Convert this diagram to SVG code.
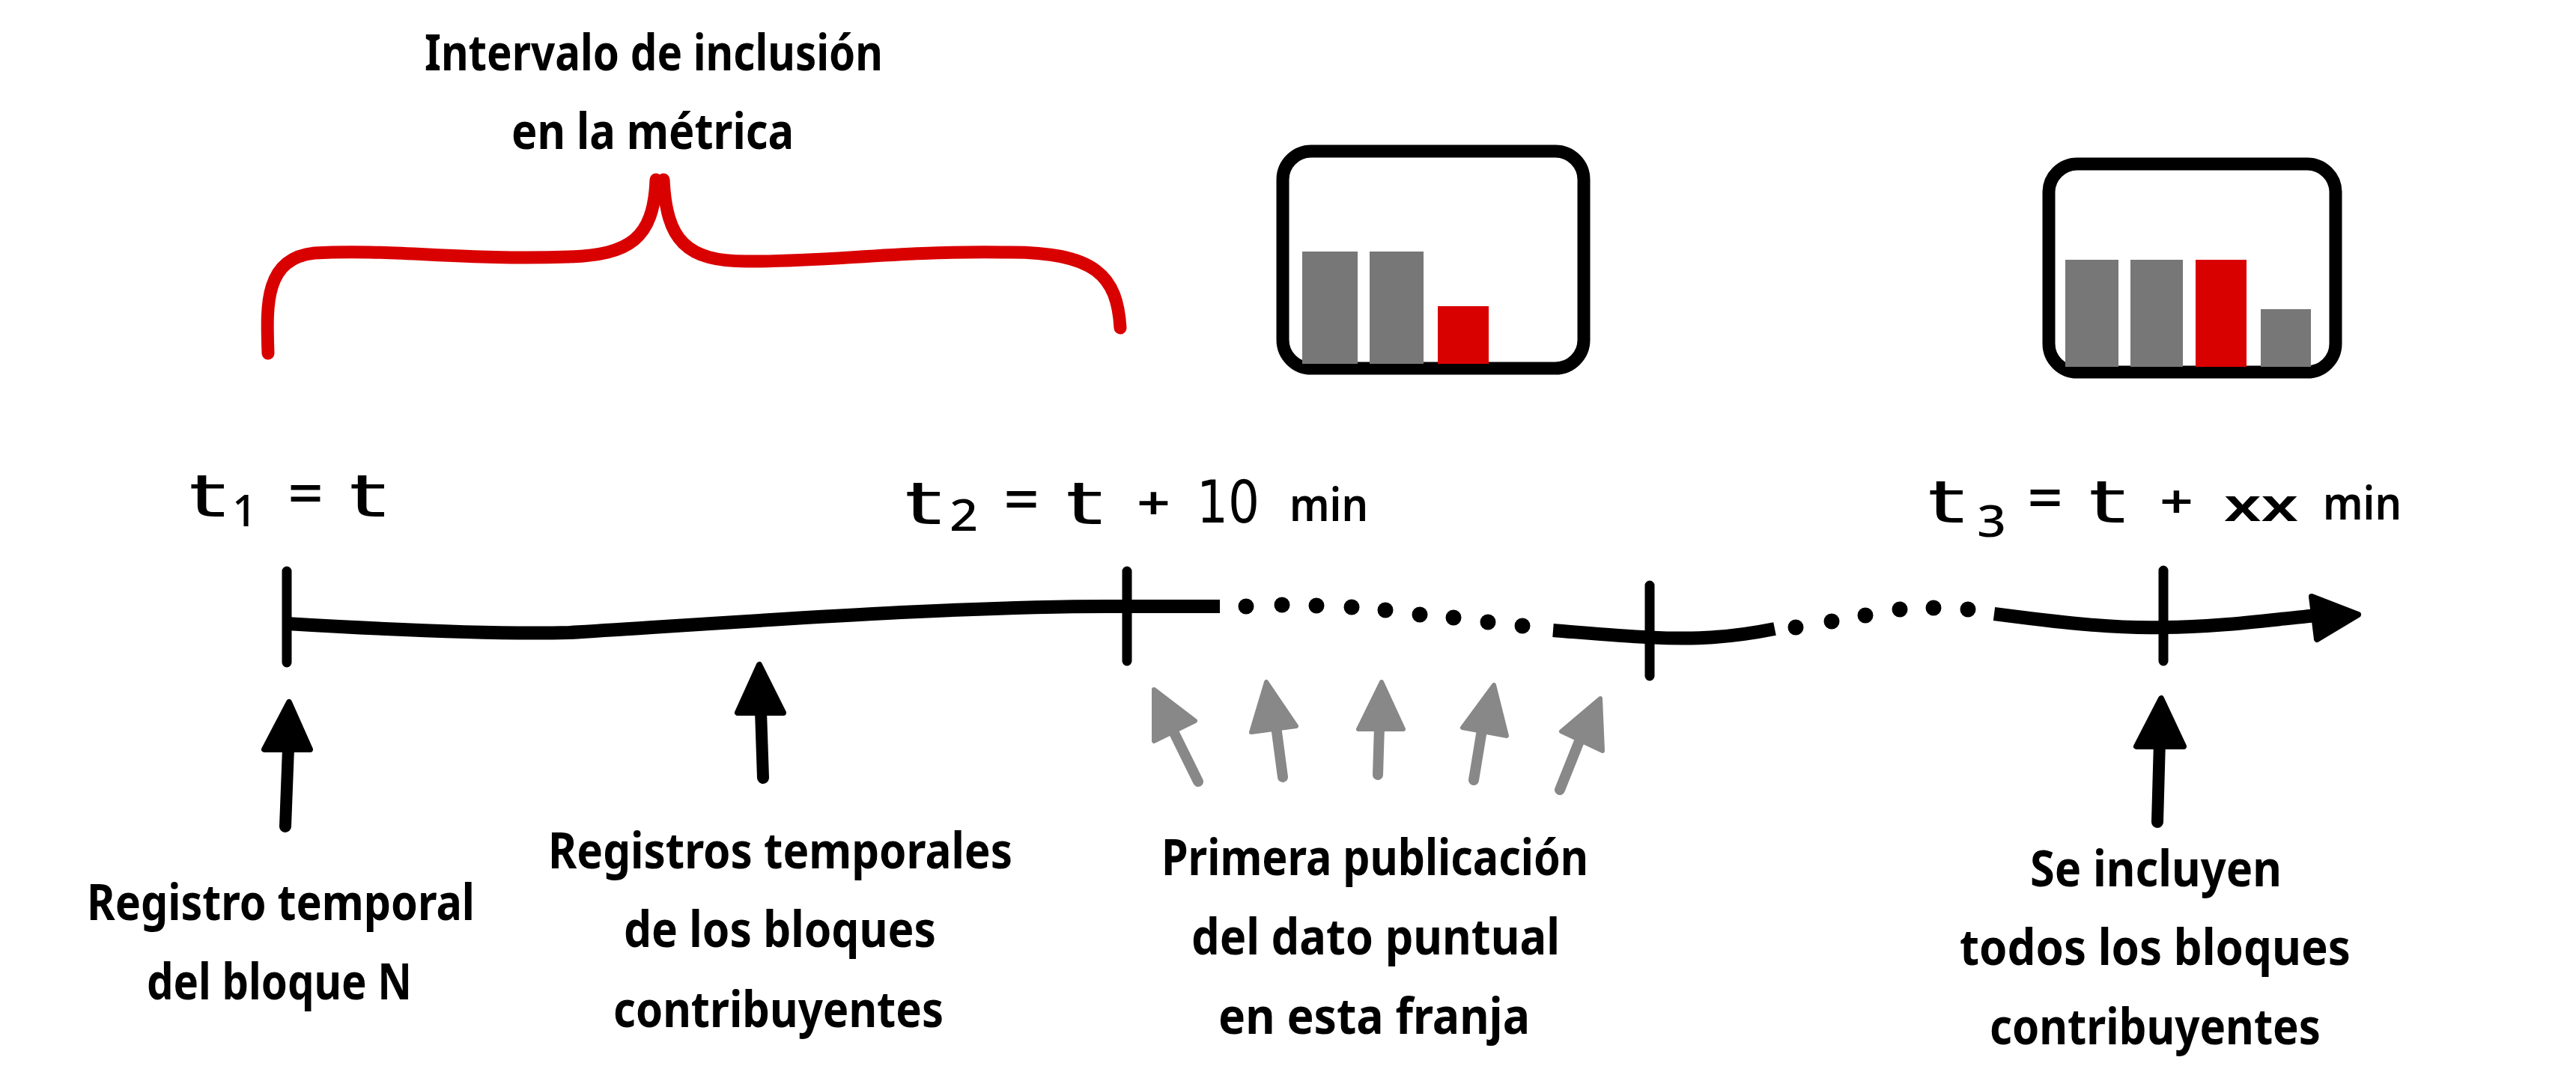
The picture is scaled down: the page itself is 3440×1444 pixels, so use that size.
<svg xmlns="http://www.w3.org/2000/svg" width="3440" height="1444" viewBox="0 0 3440 1444">
<style>
text{font-family:"Noto Sans","Open Sans",sans-serif;font-size:66px;font-weight:700;fill:#000}
.t{font-family:"DejaVu Sans",sans-serif;font-size:78px;font-weight:400}
.sub{font-family:"Noto Sans",sans-serif;font-size:58px;font-weight:500}
.small{font-family:"Noto Sans",sans-serif;font-size:62px;font-weight:600}
.brace{fill:none;stroke:#d90000;stroke-width:17;stroke-linecap:round}
.axis{fill:none;stroke:#000;stroke-width:18;stroke-linecap:butt}
.tick{fill:none;stroke:#000;stroke-width:13;stroke-linecap:round}
.shaft{fill:none;stroke:#000;stroke-width:16;stroke-linecap:round}
.head{fill:#000;stroke:#000;stroke-width:8;stroke-linejoin:round}
.gs{fill:none;stroke:#888;stroke-width:14;stroke-linecap:round}
.gh{fill:#888;stroke:#888;stroke-width:6;stroke-linejoin:round}
.box{fill:#fff;stroke:#000;stroke-width:17}
.gray{fill:#777}
.red{fill:#d90000}
</style>
<rect width="3440" height="1444" fill="#fff"/>
<g id="brace-inclusion">
<path class="brace" d="M358 472C356 410 352 345 420 338C520 332 620 348 760 343C840 340 873 320 876 240"/>
<path class="brace" d="M886 240C890 320 915 350 1000 349C1100 350 1200 335 1340 337C1465 335 1492 370 1496 438"/>
<text x="567" y="94" textLength="612" lengthAdjust="spacingAndGlyphs">Intervalo de inclusión</text>
<text x="683" y="199" textLength="377" lengthAdjust="spacingAndGlyphs">en la métrica</text>
</g>
<g id="chart-t2">
<rect class="box" x="1713" y="202" width="402" height="290" rx="38"/>
<rect class="gray" x="1739" y="336" width="74" height="150"/>
<rect class="gray" x="1829" y="336" width="72" height="150"/>
<rect class="red" x="1920" y="409" width="68" height="77"/>
</g>
<g id="chart-t3">
<rect class="box" x="2736" y="219" width="383" height="278" rx="38"/>
<rect class="gray" x="2758" y="347" width="71" height="143"/>
<rect class="gray" x="2845" y="347" width="70" height="143"/>
<rect class="red" x="2932" y="347" width="68" height="143"/>
<rect class="gray" x="3019" y="413" width="67" height="77"/>
</g>
<g id="label-t1">
<text class="t" y="690"><tspan x="252" textLength="50" lengthAdjust="spacingAndGlyphs">t</tspan><tspan class="sub" x="310" y="703">1</tspan><tspan x="382" y="684" textLength="52" lengthAdjust="spacingAndGlyphs">=</tspan><tspan x="466" y="690" textLength="50" lengthAdjust="spacingAndGlyphs">t</tspan></text>
</g>
<g id="label-t2">
<text class="t" y="700"><tspan x="1208" textLength="50" lengthAdjust="spacingAndGlyphs">t</tspan><tspan class="sub" x="1268" y="709" textLength="38" lengthAdjust="spacingAndGlyphs">2</tspan><tspan x="1338" y="692" textLength="52" lengthAdjust="spacingAndGlyphs">=</tspan><tspan x="1423" y="700" textLength="50" lengthAdjust="spacingAndGlyphs">t</tspan><tspan class="small" x="1518" y="694" textLength="45" lengthAdjust="spacingAndGlyphs">+</tspan><tspan x="1598" y="698" textLength="84" lengthAdjust="spacingAndGlyphs">10</tspan><tspan class="small" x="1722" y="696" textLength="105" lengthAdjust="spacingAndGlyphs">min</tspan></text>
</g>
<g id="label-t3">
<text class="t" y="698"><tspan x="2574" textLength="50" lengthAdjust="spacingAndGlyphs">t</tspan><tspan class="sub" x="2640" y="717" textLength="39" lengthAdjust="spacingAndGlyphs">3</tspan><tspan x="2705" y="690" textLength="52" lengthAdjust="spacingAndGlyphs">=</tspan><tspan x="2789" y="698" textLength="50" lengthAdjust="spacingAndGlyphs">t</tspan><tspan class="small" x="2884" y="692" textLength="45" lengthAdjust="spacingAndGlyphs">+</tspan><tspan class="small" x="2970" y="696" textLength="99" lengthAdjust="spacingAndGlyphs">xx</tspan><tspan class="small" x="3102" y="694" textLength="105" lengthAdjust="spacingAndGlyphs">min</tspan></text>
</g>
<g id="connectors">
<path class="axis" d="M383 833C500 840 650 848 760 845C1000 830 1300 808 1505 810L1629 810"/>
<g fill="#000">
<circle cx="1664" cy="810" r="10.5"/><circle cx="1712" cy="808" r="10.5"/><circle cx="1758" cy="809" r="10.5"/><circle cx="1805" cy="811" r="10.5"/><circle cx="1850" cy="815" r="10.5"/><circle cx="1896" cy="821" r="10.5"/><circle cx="1941" cy="825" r="10.5"/><circle cx="1987" cy="831" r="10.5"/><circle cx="2033" cy="836" r="10.5"/>
<circle cx="2398" cy="838" r="10.5"/><circle cx="2446" cy="830" r="10.5"/><circle cx="2491" cy="822" r="10.5"/><circle cx="2537" cy="814" r="10.5"/><circle cx="2582" cy="812" r="10.5"/><circle cx="2628" cy="814" r="10.5"/>
</g>
<path class="axis" d="M2074 842C2150 848 2230 856 2290 851C2320 849 2345 845 2370 840"/>
<path class="axis" d="M2663 820C2740 830 2820 840 2890 838C2960 838 3030 828 3095 822"/>
<polygon class="head" points="3087,797 3149,821 3094,854"/>
<path class="tick" d="M383 763V885M1505 763V883M2203 782V903M2889 762V883"/>
<path class="shaft" d="M381 1104L385 1000"/><polygon class="head" points="386,938 353,1001 414,1001"/>
<path class="shaft" d="M1019 1039L1016 950"/><polygon class="head" points="1014,888 985,952 1046,952"/>
<path class="shaft" d="M2881 1098L2884 990"/><polygon class="head" points="2886,933 2853,997 2916,997"/>
<path class="gs" d="M1600 1044L1566 975"/><polygon class="gh" points="1541,921 1596,963 1541,990"/>
<path class="gs" d="M1713 1038L1704 970"/><polygon class="gh" points="1691,911 1671,978 1731,970"/>
<path class="gs" d="M1840 1035L1842 970"/><polygon class="gh" points="1845,911 1814,974 1874,974"/>
<path class="gs" d="M1968 1042L1979 975"/><polygon class="gh" points="1995,915 1953,972 2012,983"/>
<path class="gs" d="M2083 1055L2111 985"/><polygon class="gh" points="2137,933 2085,977 2140,1003"/>
</g>
<g id="label-bloque-n">
<text x="116" y="1229" textLength="518" lengthAdjust="spacingAndGlyphs">Registro temporal</text>
<text x="196" y="1335" textLength="354" lengthAdjust="spacingAndGlyphs">del bloque N</text>
</g>
<g id="label-contribuyentes">
<text x="732" y="1160" textLength="620" lengthAdjust="spacingAndGlyphs">Registros temporales</text>
<text x="833" y="1265" textLength="417" lengthAdjust="spacingAndGlyphs">de los bloques</text>
<text x="819" y="1372" textLength="441" lengthAdjust="spacingAndGlyphs">contribuyentes</text>
</g>
<g id="label-publicacion">
<text x="1551" y="1169" textLength="570" lengthAdjust="spacingAndGlyphs">Primera publicación</text>
<text x="1591" y="1275" textLength="492" lengthAdjust="spacingAndGlyphs">del dato puntual</text>
<text x="1627" y="1381" textLength="416" lengthAdjust="spacingAndGlyphs">en esta franja</text>
</g>
<g id="label-todos">
<text x="2711" y="1184" textLength="336" lengthAdjust="spacingAndGlyphs">Se incluyen</text>
<text x="2617" y="1289" textLength="522" lengthAdjust="spacingAndGlyphs">todos los bloques</text>
<text x="2657" y="1395" textLength="442" lengthAdjust="spacingAndGlyphs">contribuyentes</text>
</g>
</svg>
